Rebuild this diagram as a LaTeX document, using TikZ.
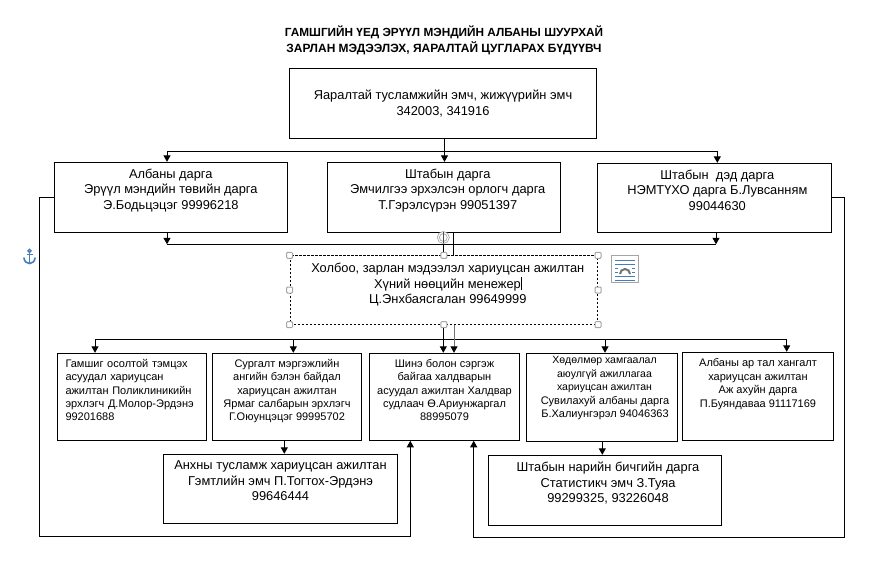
\documentclass[tikz,border=0pt]{standalone}
\usepackage{fontspec}
\setmainfont{Liberation Sans}
\usetikzlibrary{arrows.meta}
\definecolor{iconblue}{RGB}{68,125,185}
\definecolor{handlegray}{RGB}{165,165,165}
\newcommand{\lesser}[1]{{\fontsize{10.5}{13.4}\selectfont #1}}
\newcommand{\nudge}[1]{\hspace*{#1pt}}
\tikzset{
  box/.style = {shape=rectangle, draw, line width=1pt, inner sep=0pt, align=center,
    font=\fontsize{12.85}{15.5}\selectfont},
  smallbox/.style = {box, font=\fontsize{11}{13.4}\selectfont},
  line/.style = {draw, line width=1pt},
  arrow/.style = {line, -{Triangle[length=6.5pt,width=7pt,black]}},
  handle/.style = {shape=rectangle, rounded corners=1pt, draw=handlegray, line width=1pt,
    fill=white, inner sep=0pt, minimum size=6pt},
}
\begin{document}
\begin{tikzpicture}[x=1pt, y=-1pt]
  \useasboundingbox (0,0) rectangle (882,569);

  \node[font=\fontsize{11.8}{15.5}\selectfont\bfseries, align=center] (title) at (444,40.5)
    {ГАМШГИЙН ҮЕД ЭРҮҮЛ МЭНДИЙН АЛБАНЫ ШУУРХАЙ\\\fontsize{11.95}{15.5}\selectfont ЗАРЛАН МЭДЭЭЛЭХ, ЯАРАЛТАЙ ЦУГЛАРАХ БҮДҮҮВЧ};

  \node[box, minimum width=307pt, minimum height=70pt] (yaraltai) at (443,104)
    {Яаралтай тусламжийн эмч, жижүүрийн эмч\\342003, 341916\\[-13pt]~};

  \node[box, minimum width=233pt, minimum height=69.7pt] (alba) at (170.8,197.2)
    {Албаны дарга\\Эрүүл мэндийн төвийн дарга\\Э.Бодьцэцэг 99996218\\[1pt]~};
  \node[box, minimum width=233pt, minimum height=69.7pt] (shtab) at (443.8,197.2)
    {\nudge{8}Штабын дарга\\\nudge{8}Эмчилгээ эрхэлсэн орлогч дарга\\\nudge{8}Т.Гэрэлсүрэн 99051397\\[1pt]~};
  \node[box, minimum width=234pt, minimum height=68.7pt] (ded) at (714.3,197.7)
    {\nudge{6}Штабын\ \ дэд дарга\\\nudge{6}НЭМТҮХО дарга Б.Лувсанням\\\nudge{6}99044630\\~};

  \node[box, dash pattern=on 2.5pt off 1.5pt, line width=0.8pt, minimum width=307.7pt, minimum height=68.6pt] (holboo) at (443.8,290)
    {\nudge{8}Холбоо, зарлан мэдээлэл хариуцсан ажилтан\\\nudge{8}Хүний нөөцийн менежер\rule[-2pt]{0.7pt}{13pt}\\\nudge{8}Ц.Энхбаясгалан 99649999\\[-3pt]~};

  \node[smallbox, minimum width=149.4pt, minimum height=87pt, text width=133pt, align=left] (gamshig) at (132,396.8)
    {Гамшиг осолтой тэмцэх\\асуудал хариуцсан\\ажилтан Поликлиникийн\\эрхлэгч Д.Молор-Эрдэнэ\\99201688\\~};
  \node[smallbox, minimum width=149.4pt, minimum height=87pt] (surgalt) at (287,396.8)
    {Сургалт мэргэжлийн\\ангийн бэлэн байдал\\хариуцсан ажилтан\\Ярмаг салбарын эрхлэгч\\Г.Оюунцэцэг 99995702\\~};
  \node[smallbox, minimum width=150.4pt, minimum height=87pt] (shine) at (444.5,396.8)
    {Шинэ болон сэргэж\\байгаа халдварын\\асуудал ажилтан Халдвар\\судлаач Ө.Ариунжаргал\\88995079\\~};
  \node[smallbox, minimum width=151.4pt, minimum height=88pt] (hodolmor) at (602,397.3)
    {\nudge{5}\lesser{Хөдөлмөр хамгаалал}\\\nudge{5}\lesser{аюулгүй ажиллагаа}\\\nudge{5}\lesser{хариуцсан ажилтан}\\\nudge{6}Сувилахуй албаны дарга\\\nudge{6}Б.Халиунгэрэл 94046363\\[7pt]~};
  \node[smallbox, minimum width=151.4pt, minimum height=88pt] (artal) at (758,396.3)
    {Албаны ар тал хангалт\\хариуцсан ажилтан\\Аж ахуйн дарга\\П.Буяндаваа 91117169\\~\\~};

  \node[box, minimum width=234.4pt, minimum height=69pt] (anhny) at (280.5,488.8)
    {Анхны тусламж хариуцсан ажилтан\\Гэмтлийн эмч П.Тогтох-Эрдэнэ\\99646444\\~};
  \node[box, minimum width=233.4pt, minimum height=70pt] (nariin) at (605,490.3)
    {\nudge{6}Штабын нарийн бичгийн дарга\\\nudge{6}Статистикч эмч З.Туяа\\\nudge{6}99299325, 93226048\\~};

  \coordinate (busTopL) at (167,151.3);
  \coordinate (busTopM) at (444.5,151.3);
  \coordinate (busTopR) at (717.3,151.3);
  \draw[line] (busTopL) -- (busTopR);
  \draw[arrow] (busTopM |- yaraltai.south) -- (busTopM |- shtab.north);
  \draw[arrow] (busTopL) -- (busTopL |- alba.north);
  \draw[arrow] (busTopR) -- (busTopR |- ded.north);

  \coordinate (busMidL) at (167,244.3);
  \coordinate (busMidR) at (716,244.3);
  \coordinate (busMidM) at (443.5,244.3);
  \coordinate (sideMid) at (453.3,244.3);
  \draw[line] (busMidL) -- (busMidR);
  \draw[arrow] (busMidL |- alba.south) -- (busMidL);
  \draw[arrow] (busMidR |- ded.south) -- (busMidR);
  \draw[line] (sideMid |- shtab.south) -- (sideMid |- holboo.north);
  \draw[line] (busMidM |- shtab.south) -- (busMidM);
  \draw[line, line width=1.6pt] (busMidM) -- (busMidM |- holboo.north);

  \coordinate (busLowL) at (95,339.3);
  \coordinate (busLowA) at (293.3,339.3);
  \coordinate (busLowM) at (443.3,339.3);
  \coordinate (busLowG) at (454,339.3);
  \coordinate (busLowB) at (605,339.3);
  \coordinate (busLowR) at (786.7,339.3);
  \draw[line] (busLowL) -- (busLowR);
  \draw[arrow] (busLowL) -- (busLowL |- gamshig.north);
  \draw[arrow] (busLowA) -- (busLowA |- surgalt.north);
  \draw[arrow] (busLowM |- holboo.south) -- (busLowM |- shine.north);
  \draw[arrow, draw=black!55] (busLowG |- holboo.south) -- (busLowG |- shine.north);
  \draw[arrow] (busLowB) -- (busLowB |- hodolmor.north);
  \draw[arrow] (busLowR) -- (busLowR |- artal.north);

  \coordinate (downL) at (284.3,440.3);
  \coordinate (downR) at (602.3,441.3);
  \draw[arrow] (downL) -- (downL |- anhny.north);
  \draw[arrow] (downR) -- (downR |- nariin.north);

  \coordinate (loopL) at (39.5,536.3);
  \coordinate (loopLup) at (410.3,536.3);
  \coordinate (loopR) at (844.3,537.3);
  \coordinate (loopRup) at (473.7,537.3);
  \draw[arrow] (alba.west) -- (loopL |- alba.west) -- (loopL) -- (loopLup) -- (loopLup |- shine.south);
  \draw[arrow] (ded.east) -- (loopR |- ded.east) -- (loopR) -- (loopRup) -- (loopRup |- shine.south);

  \foreach \a in {north west, north, north east, west, east, south west, south, south east}
    \node[handle] (handle \a) at (holboo.\a) {};
  \node[shape=circle, draw=handlegray, double=white, double distance=1pt, line width=0.8pt,
    fill=white, inner sep=0pt, minimum size=10pt] (rotate) at (443.3,237.5) {};
  \draw[line width=0.8pt, black!70] (rotate.north) -- (rotate.south);

  % anchor icon
  \draw[iconblue, line width=1.3pt] (29.5,250.8) circle (1.6);
  \draw[iconblue, line width=1.5pt] (29.5,252.5) -- (29.5,263.5);
  \draw[iconblue, line width=1.2pt] (26.5,254.8) -- (32.5,254.8);
  \draw[iconblue, line width=1.6pt] (23.8,257.5) .. controls (24.5,262) and (27,263.5) .. (29.5,263.5)
    .. controls (32,263.5) and (34.5,262) .. (35.2,257.5);

  % layout options icon
  \draw[handlegray, line width=1pt, fill=white] (611.5,255.3) rectangle (638.7,282.7);
  \foreach \y in {260,264,276,280}
    \draw[iconblue, line width=0.9pt] (615,\y) -- (635.3,\y);
  \foreach \y in {268,272}{
    \draw[iconblue, line width=0.9pt] (615,\y) -- (618,\y);
    \draw[iconblue, line width=0.9pt] (632.3,\y) -- (635.3,\y);
  }
  \draw[black!55, line width=2pt] (620,274) arc[start angle=180, end angle=360, radius=5];
\end{tikzpicture}
\end{document}
